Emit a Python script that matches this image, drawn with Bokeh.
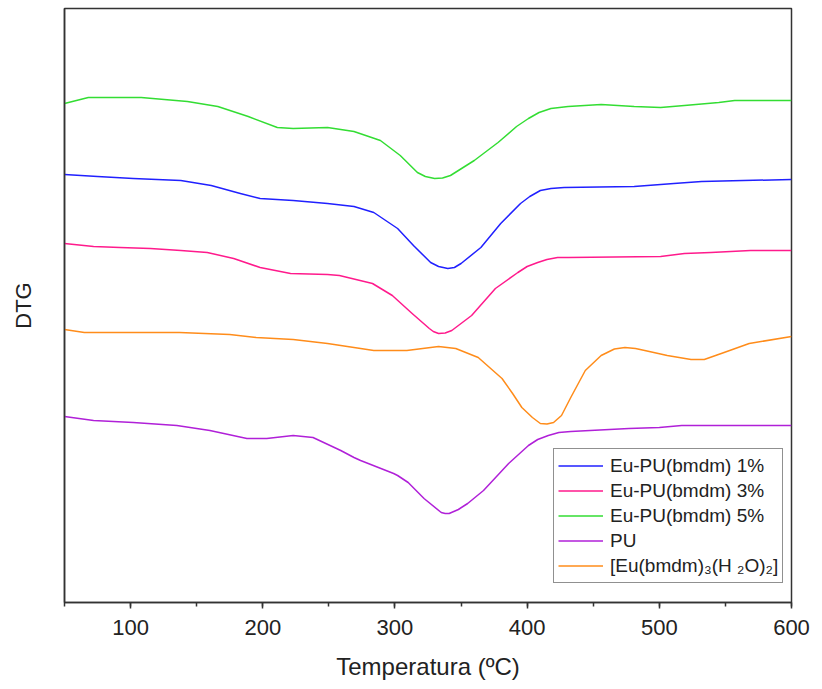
from bokeh.plotting import figure
from bokeh.models import Range1d, FixedTicker, Legend, LegendItem, SingleIntervalTicker
from bokeh.embed import file_html
from bokeh.resources import INLINE

# DTG curves (arbitrary units, stacked) vs temperature in ºC
t_eu1 = [50, 75, 102, 138, 161, 183, 198, 223, 249, 269, 284, 302, 314, 327, 333,
         340, 345, 350, 365, 380, 395, 402, 410, 418, 428, 481, 511, 532, 600]
dtg_eu1 = [428, 426, 424, 422, 417, 409, 404, 402, 399, 396, 390, 374, 357, 340, 336,
           334, 335, 339, 355, 379, 399, 406, 412, 414, 415, 416, 419, 421, 423]

t_eu3 = [50, 72, 92, 115, 138, 158, 178, 198, 221, 249, 258, 283, 298, 313, 326,
         329, 333, 338, 343, 358, 376, 393, 400, 408, 415, 423, 431, 501, 519, 539,
         569, 600]
dtg_eu3 = [359, 356, 355, 354, 352, 350, 344, 335, 329, 328, 327, 319, 307, 289, 274,
           271, 269, 269.5, 272, 287, 314, 330, 336, 340, 343, 345, 345, 346, 349, 350,
           352, 352]

t_eu5 = [50, 68, 108, 143, 166, 189, 211, 223, 249, 269, 289, 304, 317, 323, 330,
         336, 342, 360, 378, 392, 401, 409, 418, 431, 456, 481, 501, 519, 545, 557,
         600]
dtg_eu5 = [499, 505, 505, 501, 496, 486, 475, 474, 475, 471, 462, 447, 430, 426, 424,
           424.5, 427, 442, 460, 476, 484, 490, 494, 496, 498, 496, 495, 497, 500, 502,
           502]

t_pu = [50, 72, 102, 135, 160, 188, 203, 223, 238, 259, 269, 274, 299, 302, 310,
        322, 335, 338, 341, 348, 355, 367, 386, 401, 408, 416, 424, 433, 477, 500,
        517, 600]
dtg_pu = [186, 182, 180, 177, 172, 164, 164, 167, 165, 152, 145, 142, 129, 127, 120,
          104, 90, 89, 89, 93, 99, 112, 139, 157, 163, 167, 170, 171, 174, 175,
          177, 177]

t_complex = [50, 65, 137, 175, 195, 223, 249, 274, 284, 309, 333, 346, 363, 381, 389,
             396, 404, 410, 415, 420, 426, 433, 444, 456, 466, 474, 482, 489, 506, 524,
             534, 549, 568, 600]
dtg_complex = [273, 270, 270, 268, 265, 263, 259, 254, 252, 252, 256, 254, 245, 224, 209,
               195, 185, 179, 178.5, 180, 187, 205, 232, 247, 253.5, 255, 254, 252, 247, 243,
               243, 250, 259, 266]

labels = ["Eu-PU(bmdm) 1%", "Eu-PU(bmdm) 3%", "Eu-PU(bmdm) 5%", "PU",
          "[Eu(bmdm)\u2083(H \u2082O)\u2082]"]
colors = ["#2020FF", "#FF1A8C", "#33DD33", "#B020D8", "#FF8C1A"]

FONT = "Liberation Sans"

p = figure(width=822, height=689, output_backend="svg", toolbar_location=None,
           x_range=Range1d(50, 600), y_range=Range1d(0, 594),
           min_border_left=64, min_border_right=31, min_border_top=8,
           min_border_bottom=87)
p.xgrid.visible = False
p.ygrid.visible = False
p.outline_line_color = "#333333"
p.outline_line_width = 1.5
p.background_fill_color = "white"
p.border_fill_color = "white"

series = [(t_eu1, dtg_eu1), (t_eu3, dtg_eu3), (t_eu5, dtg_eu5),
          (t_pu, dtg_pu), (t_complex, dtg_complex)]
renderers = []
for (tx, ty), c in zip(series, colors):
    renderers.append(p.line(tx, ty, line_color=c, line_width=1.5,
                            line_join="round"))

# x axis
xa = p.xaxis[0]
xa.ticker = SingleIntervalTicker(interval=100, num_minor_ticks=2)
xa.axis_label = "Temperatura (\u00baC)"
xa.axis_label_text_font = FONT
xa.axis_label_text_font_style = "normal"
xa.axis_label_text_font_size = "24px"
xa.axis_label_text_color = "#222222"
xa.axis_label_standoff = 15
xa.major_label_text_font = FONT
xa.major_label_text_font_size = "22px"
xa.major_label_text_color = "#222222"
xa.major_label_standoff = 11
xa.major_tick_out = 6
xa.major_tick_in = 0
xa.minor_tick_out = 4
xa.minor_tick_in = 0
xa.axis_line_color = "#333333"
xa.axis_line_width = 1.5
xa.major_tick_line_color = "#333333"
xa.major_tick_line_width = 1.5
xa.minor_tick_line_color = "#333333"
xa.minor_tick_line_width = 1.5

# y axis: label only
ya = p.yaxis[0]
ya.ticker = FixedTicker(ticks=[])
ya.axis_label = "DTG"
ya.axis_label_text_font = FONT
ya.axis_label_text_font_style = "normal"
ya.axis_label_text_font_size = "22px"
ya.axis_label_text_color = "#222222"
ya.axis_label_standoff = 29
ya.major_tick_out = 0
ya.minor_tick_out = 0
ya.major_label_text_font_size = "0px"
ya.axis_line_color = "#333333"
ya.axis_line_width = 1.5

legend = Legend(items=[LegendItem(label=l, renderers=[r]) for l, r in zip(labels, renderers)],
                location=(489, 19))
legend.label_text_font = FONT
legend.label_text_font_size = "19px"
legend.label_text_color = "#222222"
legend.glyph_width = 45
legend.glyph_height = 25
legend.label_height = 25
legend.spacing = 0
legend.padding = 4
legend.margin = 0
legend.label_standoff = 7
legend.border_line_color = "#222222"
legend.border_line_width = 1.5
legend.background_fill_alpha = 1.0
p.add_layout(legend)

open("out.html", "w").write(file_html(p, INLINE))
